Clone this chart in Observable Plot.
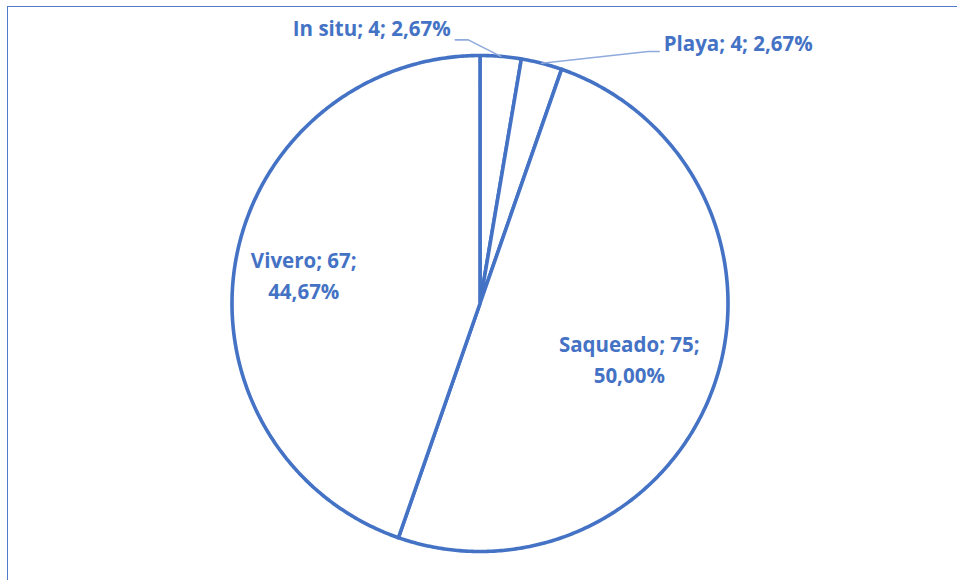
<!DOCTYPE html>
<html>
<head>
<meta charset="utf-8">
<script src="https://cdn.jsdelivr.net/npm/d3@7"></script>
<script src="https://cdn.jsdelivr.net/npm/@observablehq/plot@0.6"></script>
<style>
  html, body { margin: 0; padding: 0; background: #fff; width: 957px; height: 580px; overflow: hidden; }
  #frame { position: absolute; left: 7px; top: 6px; width: 2000px; height: 2000px; border-left: 1.6px solid #4F7BC8; border-top: 1.6px solid #4F7BC8; box-sizing: border-box; }
  #chart { position: absolute; left: 0; top: 0; }
</style>
</head>
<body>
<div id="frame"></div>
<div id="chart"></div>
<script>
// Data
const categories = ["In situ", "Playa", "Saqueado", "Vivero"];
const counts = [4, 4, 75, 67];
const percentLabels = ["2,67%", "2,67%", "50,00%", "44,67%"];

const rows = categories.map((c, i) => ({ name: c, count: counts[i], pct: percentLabels[i] }));

// layout
const R = 248, CX = 479.5, CY = 303;
const BLUE = "#4472C4";
const LEADER = "#8FAADC";
const FONT = "'Open Sans', Lato, sans-serif";
const FS = 20.5;

const arcs = d3.pie().sort(null).value(d => d.count)(rows);

// slice outlines from the pie angles
const slicePts = [];
for (const a of arcs) {
  slicePts.push({ name: a.data.name, x: 0, y: 0 });
  const steps = Math.max(2, Math.ceil((a.endAngle - a.startAngle) / (Math.PI / 360)));
  for (let k = 0; k <= steps; k++) {
    const t = a.startAngle + (a.endAngle - a.startAngle) * k / steps;
    slicePts.push({ name: a.data.name, x: Math.sin(t), y: Math.cos(t) });
  }
  slicePts.push({ name: a.data.name, x: 0, y: 0 });
}

const mid = a => (a.startAngle + a.endAngle) / 2;
const big = arcs.filter(a => a.data.count > 10);
const small = arcs.filter(a => a.data.count <= 10);

// outside label placement (pixel offsets from edge point)
const outside = {
  "In situ": { dx: -50, dy: -26.5, anchor: "end", bend: [-32.5, -16.5], end: [-45.5, -16.5] },
  "Playa": { dx: 122, dy: -18.5, anchor: "start", bend: [106.5, -11.8], end: [117.5, -11.8] }
};

const leaderPts = [];
for (const a of small) {
  const m = mid(a), ex = Math.sin(m), ey = Math.cos(m);
  const o = outside[a.data.name];
  leaderPts.push({ name: a.data.name, x: ex, y: ey });
  leaderPts.push({ name: a.data.name, x: ex + o.bend[0] / R, y: ey - o.bend[1] / R });
  leaderPts.push({ name: a.data.name, x: ex + o.end[0] / R, y: ey - o.end[1] / R });
}

const chart = Plot.plot({
  width: 957,
  height: 580,
  x: { domain: [-1, 1], range: [CX - R, CX + R], axis: null },
  y: { domain: [-1, 1], range: [CY + R, CY - R], axis: null },
  style: { background: "transparent", overflow: "visible" },
  marks: [
    Plot.line(slicePts, { x: "x", y: "y", z: "name", fill: "white", stroke: BLUE, strokeWidth: 3.6, strokeLinejoin: "round", curve: "linear" }),
    Plot.line(leaderPts, { x: "x", y: "y", z: "name", stroke: LEADER, strokeWidth: 1.6 }),
    Plot.text(big, {
      x: a => 0.68 * Math.sin(mid(a)),
      y: a => 0.68 * Math.cos(mid(a)),
      text: a => `${a.data.name}; ${a.data.count};\n${a.data.pct}`,
      dx: -10, dy: -1.5,
      fill: BLUE, fontFamily: FONT, fontWeight: 700, fontSize: FS,
      lineHeight: 1.5, lineAnchor: "middle", textAnchor: "middle"
    }),
    ...small.map(a => Plot.text([a], {
      x: d => Math.sin(mid(d)),
      y: d => Math.cos(mid(d)),
      text: d => `${d.data.name}; ${d.data.count}; ${d.data.pct}`,
      dx: outside[a.data.name].dx, dy: outside[a.data.name].dy,
      textAnchor: outside[a.data.name].anchor, lineAnchor: "middle",
      fill: BLUE, fontFamily: FONT, fontWeight: 700, fontSize: FS
    }))
  ]
});
document.getElementById("chart").appendChild(chart);
</script>
</body>
</html>
